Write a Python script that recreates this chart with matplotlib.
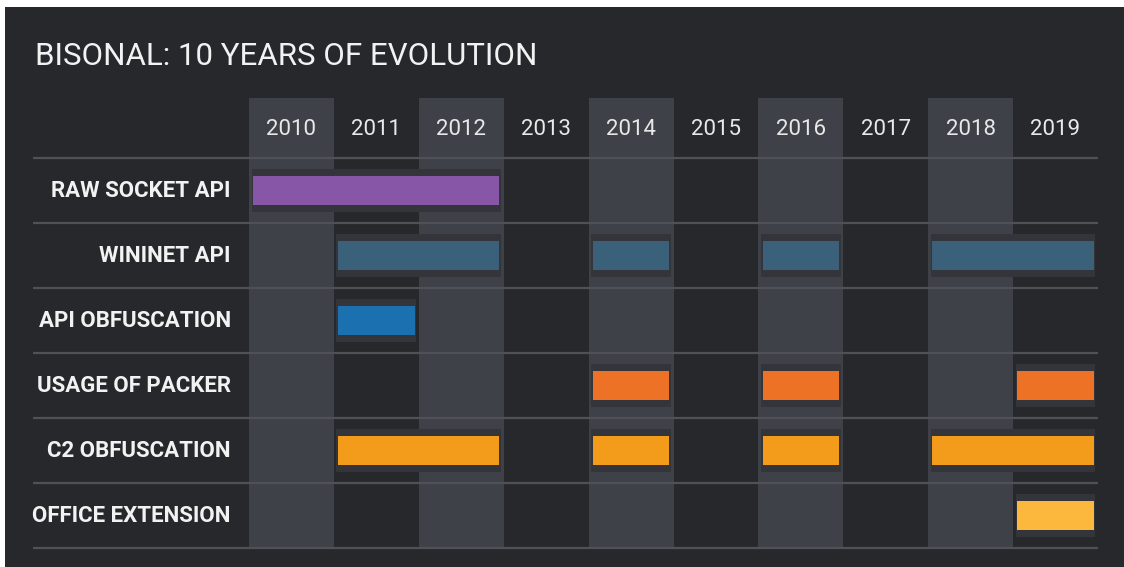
import matplotlib.pyplot as plt
from matplotlib.patches import Rectangle

# palette
BG = '#27282b'
BAND = '#3e4148'
GRID = '#4f5156'
HALO = '#33353a'
TEXT = '#f2f2f2'

# data
years = [2010, 2011, 2012, 2013, 2014, 2015, 2016, 2017, 2018, 2019]
features = ['RAW SOCKET API', 'WININET API', 'API OBFUSCATION',
            'USAGE OF PACKER', 'C2 OBFUSCATION', 'OFFICE EXTENSION']
# (first year, last year) spans per feature
raw_socket = [(2010, 2012)]
wininet = [(2011, 2012), (2014, 2014), (2016, 2016), (2018, 2019)]
api_obf = [(2011, 2011)]
packer = [(2014, 2014), (2016, 2016), (2019, 2019)]
c2_obf = [(2011, 2012), (2014, 2014), (2016, 2016), (2018, 2019)]
office = [(2019, 2019)]
spans = [raw_socket, wininet, api_obf, packer, c2_obf, office]
colors = ['#8856a7', '#3a6179', '#1b70b0', '#ee7226', '#f39b1b', '#fbb83d']

W, H = 1124, 567
fig = plt.figure(figsize=(W / 100, H / 100), dpi=100)
fig.patch.set_facecolor('white')
# dark card with a thin white margin on top/left
fig.add_artist(Rectangle((5 / W, 0), 1, 1 - 7 / H, transform=fig.transFigure,
                         facecolor=BG, edgecolor='none', zorder=0))

# grid axes: x in years, y in rows (row i spans i..i+1)
header = 60 / 65
ax = fig.add_axes([249 / W, 19 / H, (1098 - 249) / W, (548 - 98) / H])
ax.set_xlim(years[0] - 0.5, years[-1] + 0.5)
ax.set_ylim(len(features), -header)
ax.axis('off')
ax.patch.set_alpha(0)

# alternating year bands
for i, y in enumerate(years):
    if i % 2 == 0:
        ax.axvspan(y - 0.5, y + 0.5, color=BAND, lw=0, zorder=1)

# row separators, running out to the labels
x_left = years[0] - 0.5 - (249 - 33) / 84.9
for r in range(len(features) + 1):
    ax.plot([x_left, years[-1] + 0.5], [r, r], color=GRID, lw=1.6,
            zorder=2, clip_on=False, solid_capstyle='butt')

# year headers
for y in years:
    ax.text(y, -0.44, str(y), ha='center', va='center', color='#e8e8e8',
            fontsize=16, family='Roboto')

# feature bars
inset = 0.05
bar_h = 0.46
for r, (segs, c) in enumerate(zip(spans, colors)):
    ax.text(x_left + 2.33, r + 0.5, features[r], ha='right', va='center',
            color=TEXT, fontsize=16, fontweight='bold', family='Roboto',
            clip_on=False)
    for a, b in segs:
        left = a - 0.5 + inset
        width = b - a + 1 - 2 * inset
        ax.barh(r + 0.5, width + 0.04, left=left - 0.02, height=bar_h + 0.19,
                color=HALO, lw=0, zorder=3)
        ax.barh(r + 0.5, width, left=left, height=bar_h, color=c, lw=0,
                zorder=4)

fig.text(35 / W, 1 - 57 / H, 'BISONAL: 10 YEARS OF EVOLUTION',
         ha='left', va='center', color=TEXT, fontsize=22.5, family='Roboto')

fig.savefig('out.png', dpi=100, facecolor='white')
